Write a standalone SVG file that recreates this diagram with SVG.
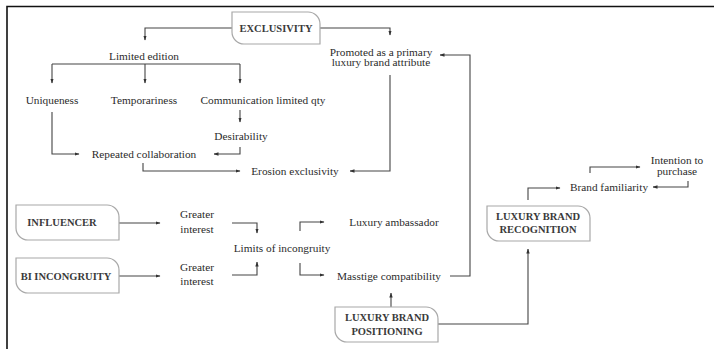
<svg xmlns="http://www.w3.org/2000/svg" width="714" height="349" viewBox="0 0 714 349">
<defs>
<marker id="ah" markerUnits="userSpaceOnUse" markerWidth="5" markerHeight="5" viewBox="0 0 5 5" refX="4.5" refY="2.5" orient="auto">
<path d="M0,0.8 L5,2.5 L0,4.2 Z" fill="#333"/>
</marker>
</defs>
<style>
.t{font-family:"Liberation Serif","Times New Roman",serif;font-size:11.3px;fill:#2b2b2b;text-anchor:middle}
.b{font-family:"Liberation Serif","Times New Roman",serif;font-size:10.5px;font-weight:bold;fill:#3a3a3a;text-anchor:middle}
.box{fill:#fff;stroke:#a8a8a8;stroke-width:1.2}
.c{fill:none;stroke:#444;stroke-width:1.1;marker-end:url(#ah)}
.n{fill:none;stroke:#444;stroke-width:1.1}
.frame{fill:none;stroke:#111;stroke-width:1.6}
</style>
<rect width="714" height="349" fill="#fff"/>
<path class="frame" d="M7,349 V6.5 H714"/>

<g id="connectors">
<path class="c" d="M232,28 H145 V40"/>
<path class="c" d="M320,28 H390 V35"/>
<path class="n" d="M52,64 H240"/>
<path class="c" d="M145,64 V83"/>
<path class="c" d="M52,64 V83"/>
<path class="c" d="M240,64 V83"/>
<path class="c" d="M240,110 V122"/>
<path class="c" d="M240,147 V154 H214"/>
<path class="c" d="M52,112 V154 H79"/>
<path class="c" d="M143,163 V171 H240"/>
<path class="c" d="M390,75 V171 H350"/>
<path class="c" d="M450,276 H470 V55 H440"/>
<path class="c" d="M119,223 H160"/>
<path class="c" d="M119,276 H160"/>
<path class="c" d="M232,223 H257 V233"/>
<path class="c" d="M232,275 H257 V262"/>
<path class="c" d="M300,231 V222 H324"/>
<path class="c" d="M300,263 V275 H324"/>
<path class="c" d="M391,307 V293"/>
<path class="c" d="M438,324 H528 V249"/>
<path class="c" d="M528,200 V188 H560"/>
<path class="c" d="M590,173 V167 H640"/>
<path class="c" d="M688,181 V187 H653"/>
</g>

<g id="exclusivity">
<path class="box" d="M232,12 H308 A12,12 0 0 1 320,24 V44 H244 A12,12 0 0 1 232,32 Z"/>
<text class="b" x="276" y="31.5">EXCLUSIVITY</text>
</g>
<g id="promoted">
<text class="t" x="381" y="55.5">Promoted as a primary</text>
<text class="t" x="381" y="66">luxury brand attribute</text>
</g>
<g id="limited-edition"><text class="t" x="144" y="60">Limited edition</text></g>
<g id="uniqueness"><text class="t" x="52" y="104">Uniqueness</text></g>
<g id="temporariness"><text class="t" x="144" y="104">Temporariness</text></g>
<g id="communication"><text class="t" x="263" y="104">Communication limited qty</text></g>
<g id="desirability"><text class="t" x="241" y="140">Desirability</text></g>
<g id="repeated"><text class="t" x="144" y="158">Repeated collaboration</text></g>
<g id="erosion"><text class="t" x="295" y="175">Erosion exclusivity</text></g>

<g id="influencer">
<path class="box" d="M16,205 H107 A12,12 0 0 1 119,217 V240 H28 A12,12 0 0 1 16,228 Z"/>
<text class="b" x="62" y="226" style="text-anchor:middle">INFLUENCER</text>
</g>
<g id="bi-incongruity">
<path class="box" d="M16,258 H107 A12,12 0 0 1 119,270 V293 H28 A12,12 0 0 1 16,281 Z"/>
<text class="b" x="66" y="280">BI INCONGRUITY</text>
</g>
<g id="greater-interest-1">
<text class="t" x="197" y="217.5">Greater</text>
<text class="t" x="197" y="232.5">interest</text>
</g>
<g id="greater-interest-2">
<text class="t" x="197" y="270.5">Greater</text>
<text class="t" x="197" y="284.5">interest</text>
</g>
<g id="limits"><text class="t" x="282" y="251.5">Limits of incongruity</text></g>
<g id="ambassador"><text class="t" x="394" y="225.5">Luxury ambassador</text></g>
<g id="masstige"><text class="t" x="389" y="279.5">Masstige compatibility</text></g>

<g id="positioning">
<path class="box" d="M335,307 H426 A12,12 0 0 1 438,319 V342 H347 A12,12 0 0 1 335,330 Z"/>
<text class="b" x="387" y="321">LUXURY BRAND</text>
<text class="b" x="387" y="334.5">POSITIONING</text>
</g>
<g id="recognition">
<path class="box" d="M487,206 H578 A12,12 0 0 1 590,218 V241 H499 A12,12 0 0 1 487,229 Z"/>
<text class="b" x="538" y="220">LUXURY BRAND</text>
<text class="b" x="538" y="233">RECOGNITION</text>
</g>
<g id="brand-familiarity"><text class="t" x="609" y="190.5">Brand familiarity</text></g>
<g id="intention">
<text class="t" x="677" y="163.5">Intention to</text>
<text class="t" x="677" y="174.5">purchase</text>
</g>
</svg>
